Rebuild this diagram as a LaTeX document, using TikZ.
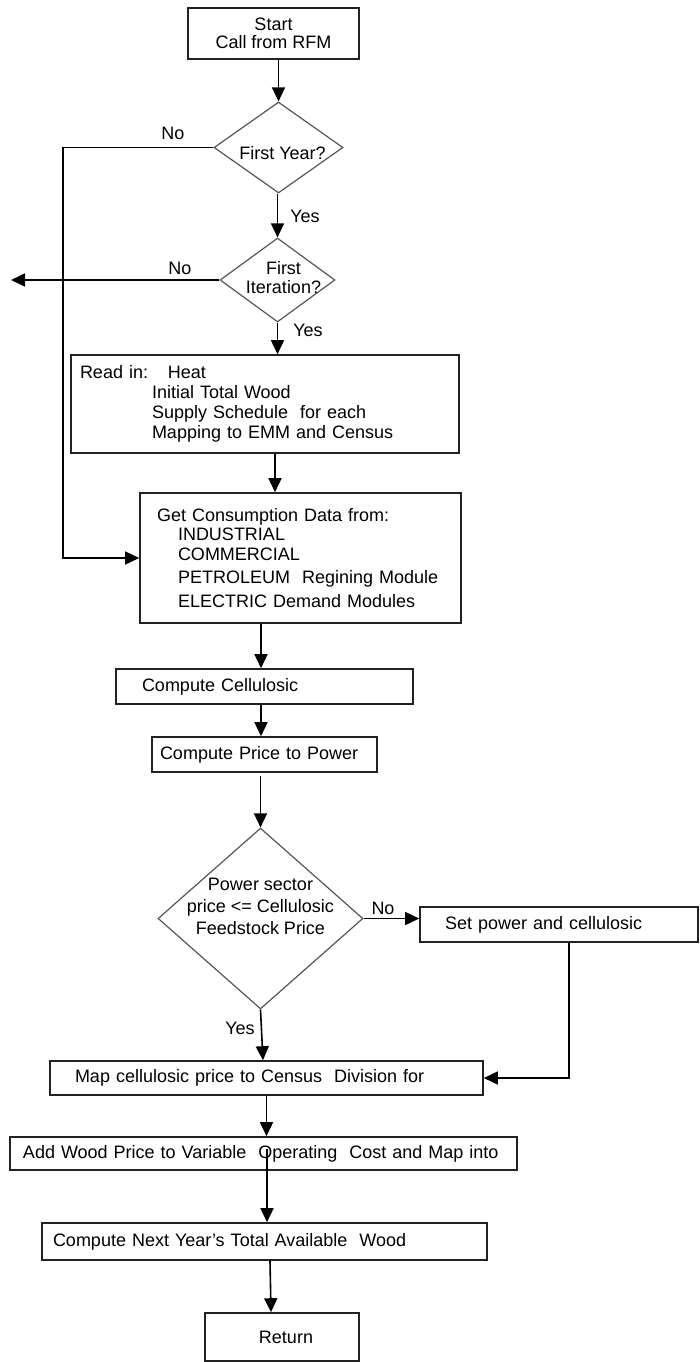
\documentclass[tikz,border=0pt]{standalone}
\usepackage{fontspec}
\setmainfont{Liberation Sans}
\usetikzlibrary{shapes.geometric,arrows.meta}
\definecolor{boxline}{HTML}{222222}
\definecolor{diamline}{HTML}{555555}
\begin{document}
\begin{tikzpicture}[x=1pt,y=-1pt,
    font=\fontsize{18}{20}\selectfont,
    >={Triangle[length=14pt,width=13pt]},
    flow/.style={->,line width=1.6pt,draw=black},
    box/.style={draw=boxline,line width=1.6pt,inner ysep=0pt,align=left},
    lbox/.style n args={3}{box,text width=#1,inner xsep=#2,minimum height=#3},
    cbox/.style n args={2}{box,align=center,minimum width=#1,minimum height=#2,inner xsep=0pt},
    decide/.style n args={2}{diamond,draw=diamline,line width=1.2pt,inner sep=0pt,minimum width=#1,minimum height=#2},
    answer/.style={inner sep=0pt}]
  \useasboundingbox (0,0) rectangle (699,1362);
  \node[cbox={171}{51}] (start) at (273.5,33.5) {Start\\[-2pt]Call from RFM};
  \node[decide={129}{91},label={[xshift=4pt,yshift=-6pt]center:First Year?}] (d1) at (278.5,147.5) {};
  \node[decide={115}{84},label={[align=center,xshift=6pt,yshift=2pt]center:First\\[-1pt]Iteration?}] (d2) at (277.5,280) {};
  \node[lbox={370pt}{9pt}{98}] (readin) at (265,404)
    {\makebox[88pt][l]{Read in:}Heat\\
     \hspace*{72pt}Initial Total Wood\\
     \hspace*{72pt}Supply Schedule\ \ for each\\
     \hspace*{72pt}Mapping to EMM and Census};
  \node[lbox={287pt}{17pt}{130}] (cons) at (300.5,558)
    {Get Consumption Data from:\\[-1pt]
     \hspace*{21pt}INDUSTRIAL\\
     \hspace*{21pt}COMMERCIAL\\[3pt]
     \hspace*{21pt}PETROLEUM\ \ Regining Module\\[4pt]
     \hspace*{21pt}ELECTRIC Demand Modules};
  \node[lbox={245pt}{26pt}{35}] (cell) at (264.5,686.5) {Compute Cellulosic};
  \node[lbox={209pt}{8pt}{35}] (price) at (264.5,754.5) {Compute Price to Power};
  \node[decide={205}{181},label={[align=center,yshift=12pt]center:Power sector\\[2pt]price <= Cellulosic\\[2pt]Feedstock Price}] (d3) at (260.5,918.5) {};
  \node[lbox={228pt}{25pt}{35}] (setp) at (559,924.5) {Set power and cellulosic};
  \node[lbox={383pt}{25pt}{34}] (map) at (266.5,1078) {Map cellulosic price to Census\ \ Division for};
  \node[lbox={481pt}{13pt}{33}] (addw) at (263.5,1153.5) {Add Wood Price to Variable\ \ Operating\ \ Cost and Map into};
  \node[lbox={423pt}{11pt}{37}] (next) at (264.5,1241.5) {Compute Next Year's Total Available\ \ Wood};
  \node[cbox={154}{48},text width=154pt,inner xsep=0pt] (ret) at (282,1337) {\hspace*{8pt}Return};
  \node[answer] (no1) at (173,133) {No};
  \node[answer] (yes1) at (305,216) {Yes};
  \node[answer] (no2) at (180,268) {No};
  \node[answer] (yes2) at (308,330) {Yes};
  \node[answer] (no3) at (383,908) {No};
  \node[answer] (yes3) at (240,1028) {Yes};
  \coordinate (nojoin) at (63,558);
  \coordinate (exit) at (11,280);
  \draw[flow] ([xshift=5pt]start.south) -- (d1.north);
  \draw[flow] ([xshift=-1pt]d1.south) -- (d2.north);
  \draw[flow] (d2.south) -- ([xshift=12.5pt]readin.north);
  \draw[flow] ([xshift=10pt]readin.south) -- ([xshift=-25.5pt]cons.north);
  \draw[flow] ([xshift=-39.5pt]cons.south) -- ([xshift=-3.5pt]cell.north);
  \draw[flow] ([xshift=-3.5pt]cell.south) -- ([xshift=-3.5pt]price.north);
  \draw[flow] (d3.north) ++(0,-51) -- (d3.north);
  \draw[flow] (d3.east) -- (d3.east -| setp.west);
  \draw[flow] (d3.south) -- ([xshift=-3.5pt]map.north);
  \draw[flow] ([xshift=10pt]setp.south) |- (map.east);
  \draw[flow] (map.south) -- (map.south |- addw.north);
  \draw[flow] ([xshift=3.5pt,yshift=5pt]addw.center) -- ([xshift=2.5pt]next.north);
  \draw[flow] ([xshift=5.5pt]next.south) -- ([xshift=-11pt]ret.north);
  \draw[flow] (d1.west) -| (nojoin) -- (cons.west);
  \draw[flow] (d2.west) -- (exit);
\end{tikzpicture}
\end{document}
